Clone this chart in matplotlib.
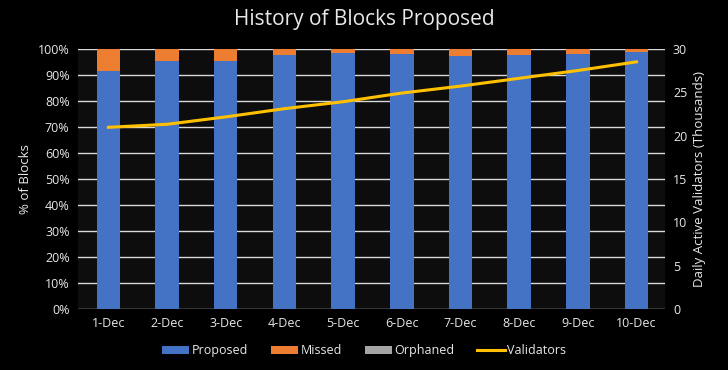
import matplotlib.pyplot as plt
from matplotlib.ticker import FuncFormatter

plt.rcParams['font.family'] = ['Open Sans', 'DejaVu Sans']

days = ['1-Dec', '2-Dec', '3-Dec', '4-Dec', '5-Dec',
        '6-Dec', '7-Dec', '8-Dec', '9-Dec', '10-Dec']
proposed = [91.5, 95.4, 95.4, 97.7, 98.3, 98.2, 97.4, 97.7, 98.0, 98.6]
orphaned = [0.1, 0.1, 0.1, 0.1, 0.1, 0.1, 0.1, 0.1, 0.1, 0.1]
missed = [100 - p - o for p, o in zip(proposed, orphaned)]
validators = [20.95, 21.3, 22.15, 23.1, 23.9, 24.9, 25.7, 26.6, 27.5, 28.5]

BLUE = '#4472c4'
ORANGE = '#ed7d31'
GRAY = '#a5a5a5'
GOLD = '#ffc000'
TXT = '#e8e8e8'

fig = plt.figure(figsize=(7.28, 3.70), dpi=100, facecolor='black')
ax = fig.add_axes([0.107, 0.165, 0.806, 0.703])
ax.set_facecolor('#0d0d0d')

x = list(range(len(days)))
w = 0.4
ax.bar(x, proposed, w, color=BLUE, label='Proposed', zorder=2)
ax.bar(x, missed, w, bottom=proposed, color=ORANGE, label='Missed', zorder=2)
bot2 = [p + m for p, m in zip(proposed, missed)]
ax.bar(x, orphaned, w, bottom=bot2, color=GRAY, label='Orphaned', zorder=2)

ax.set_ylim(0, 100)
ax.set_xlim(-0.52, 9.48)
ax.set_yticks(range(0, 101, 10))
ax.yaxis.set_major_formatter(FuncFormatter(lambda v, p: f'{v:.0f}%'))
ax.grid(axis='y', color='#d9d9d9', linewidth=1, zorder=0)
ax.set_axisbelow(True)
ax.set_xticks(x)
ax.set_xticklabels(days)
ax.set_ylabel('% of Blocks', color=TXT, fontsize=9.5)
ax.tick_params(colors=TXT, labelsize=9, length=0, pad=6)
for s in ax.spines.values():
    s.set_visible(False)

ax2 = ax.twinx()
ax2.plot(x, validators, color=GOLD, linewidth=2.2, label='Validators', zorder=3)
ax2.set_ylim(0, 30)
ax2.set_yticks(range(0, 31, 5))
ax2.set_ylabel('Daily Active Validators (Thousands)', color=TXT, fontsize=9.5)
ax2.tick_params(colors=TXT, labelsize=9, length=0, pad=6)
for s in ax2.spines.values():
    s.set_visible(False)

fig.suptitle('History of Blocks Proposed', color=TXT, fontsize=15, y=0.975)

h1, l1 = ax.get_legend_handles_labels()
h2, l2 = ax2.get_legend_handles_labels()
leg = fig.legend(h1 + h2, l1 + l2, loc='center', bbox_to_anchor=(0.5, 0.052),
                 ncol=4, frameon=False, fontsize=9, handlelength=2.2,
                 handletextpad=0.2, columnspacing=1.8)
for t in leg.get_texts():
    t.set_color(TXT)

fig.savefig('out.png', dpi=100, facecolor='black')
